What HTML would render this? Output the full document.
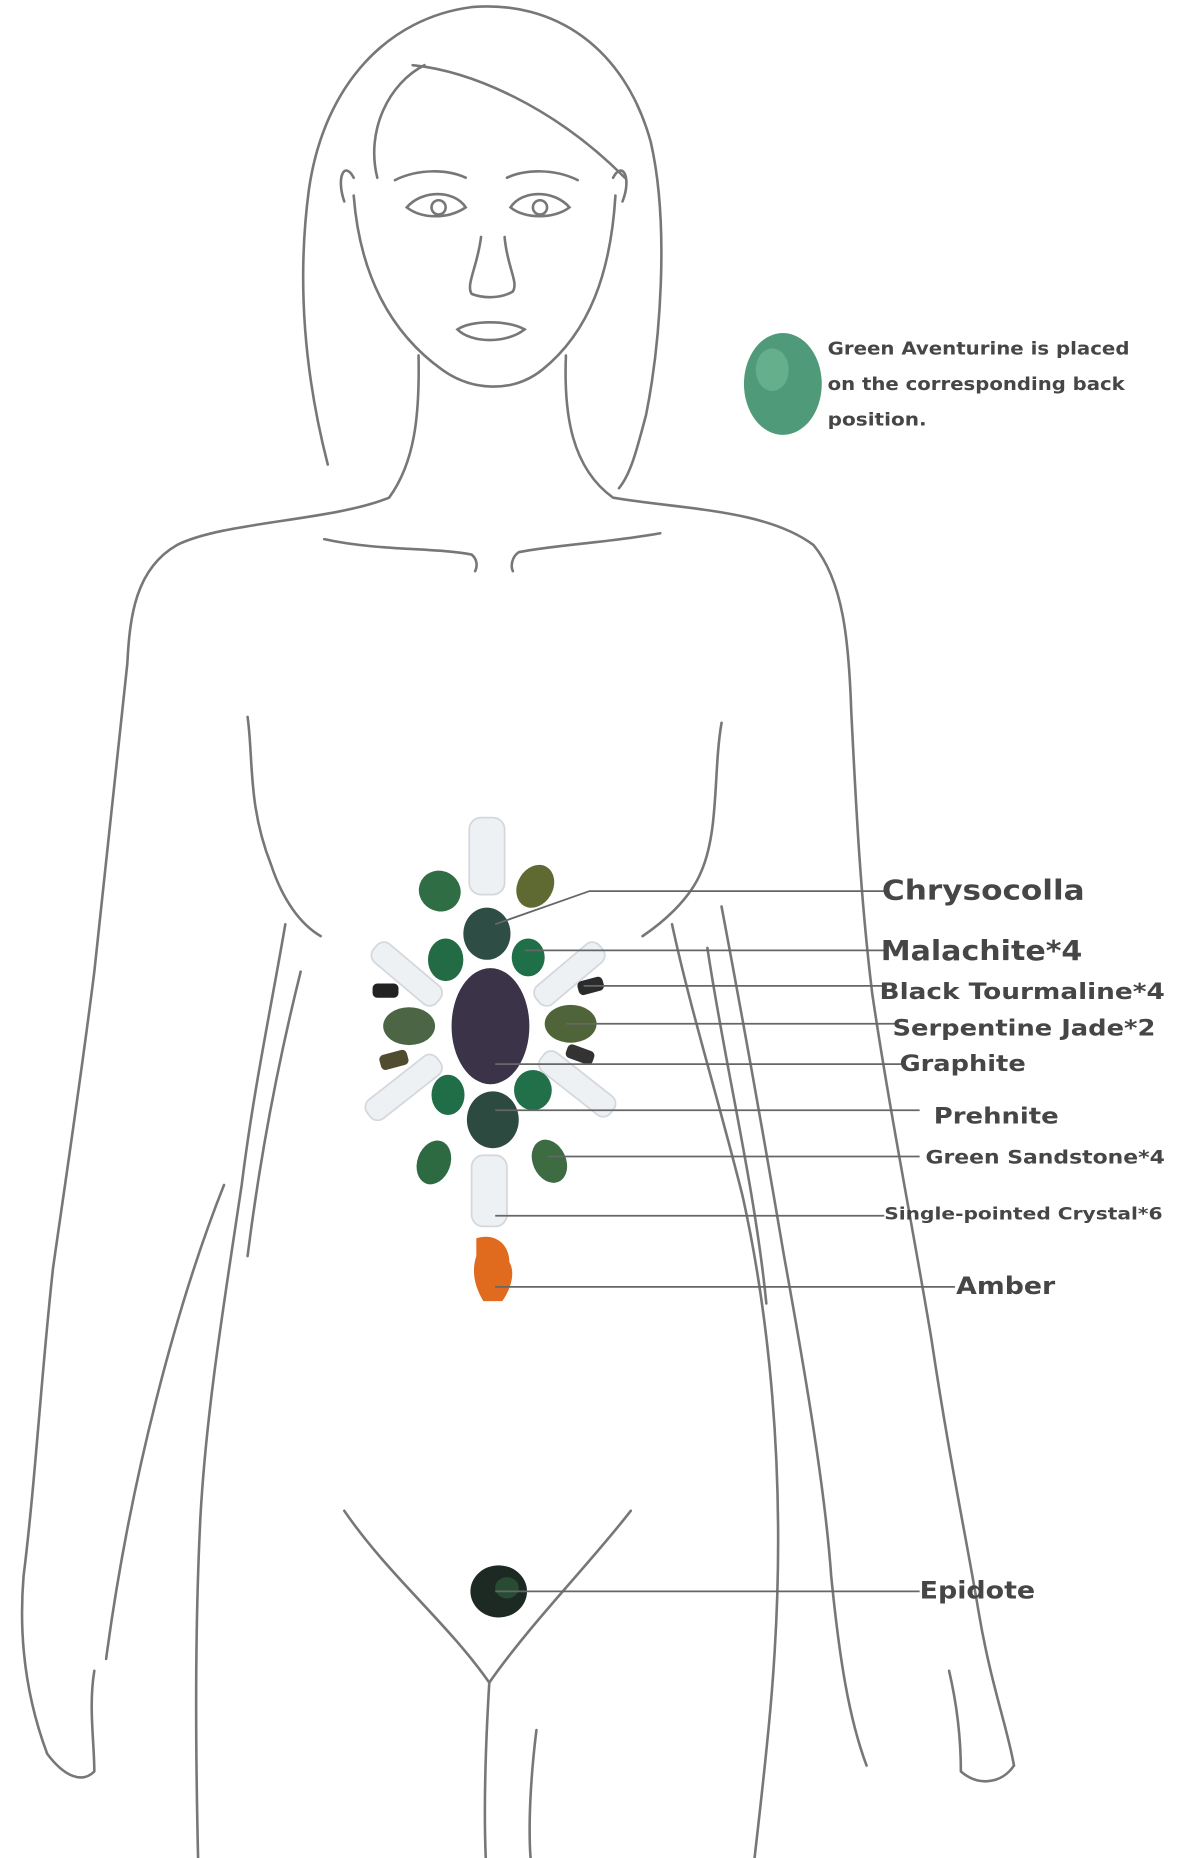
<!DOCTYPE html>
<html><head><meta charset="utf-8"><style>
html,body{margin:0;padding:0;background:#fff;}
svg{display:block;}
text{font-family:"DejaVu Sans","Liberation Sans",sans-serif;font-weight:bold;fill:#464646;}
</style></head><body>
<svg width="1179" height="1858" viewBox="0 0 1000 1568" preserveAspectRatio="none" xmlns="http://www.w3.org/2000/svg">
<g fill="none" stroke="#777" stroke-width="2.2" stroke-linecap="round">
<path d="M278,392 C262,330 250,250 262,160 C275,70 330,15 400,6 C470,0 530,40 552,120 C568,190 560,290 548,350 C540,380 535,400 525,412"/>
<path d="M350,55 C400,60 470,90 530,150"/>
<path d="M320,150 C310,110 330,70 360,55"/>
<path d="M300,165 C305,230 330,280 375,312 C400,330 435,332 460,312 C500,280 518,230 522,165"/>
<path d="M292,170 C285,150 292,135 300,150"/>
<path d="M528,170 C536,150 528,135 520,150"/>
<path d="M345,175 C358,160 385,160 395,175 C380,185 358,185 345,175Z"/>
<circle cx="372" cy="175" r="6"/>
<path d="M335,152 C355,142 380,143 395,150"/>
<path d="M433,175 C443,160 470,160 483,175 C470,185 445,185 433,175Z"/>
<circle cx="458" cy="175" r="6"/>
<path d="M430,150 C445,143 470,142 490,152"/>
<path d="M408,200 C405,225 395,240 400,248 C410,252 425,252 435,246 C440,238 430,225 428,200"/>
<path d="M388,278 C400,270 430,270 445,278 C430,290 400,290 388,278Z"/>
<path d="M355,300 C356,350 352,390 330,420 C280,440 190,440 150,460 C115,480 110,520 108,560 C100,640 90,720 80,820 C70,900 58,980 45,1070 C35,1160 30,1250 20,1330 C15,1390 25,1440 40,1480"/>
<path d="M480,300 C478,350 485,395 520,420 C580,430 650,430 690,460 C715,490 720,540 722,600 C726,680 730,760 740,840 C755,940 775,1040 790,1130 C805,1230 820,1300 830,1360 C840,1420 855,1460 860,1490"/>
<path d="M275,455 C320,465 370,462 400,468 C405,472 405,478 403,482"/>
<path d="M560,450 C515,458 470,460 440,466 C434,470 433,478 435,482"/>
<path d="M210,605 C215,640 210,680 230,730 C240,760 255,780 272,790"/>
<path d="M242,780 C230,850 215,920 205,1000 C190,1100 175,1190 170,1280 C165,1380 166,1480 168,1568"/>
<path d="M255,820 C235,900 220,980 210,1060"/>
<path d="M612,610 C605,650 610,700 595,735 C585,760 560,780 545,790"/>
<path d="M570,780 C585,850 610,930 630,1010 C650,1100 660,1200 660,1300 C660,1400 650,1480 640,1568"/>
<path d="M612,765 C630,860 648,960 665,1060 C685,1170 700,1260 705,1330 C712,1400 720,1450 735,1490"/>
<path d="M600,800 C615,900 640,1000 650,1100"/>
<path d="M190,1000 C150,1100 110,1250 90,1400"/>
<path d="M40,1480 C55,1500 70,1505 80,1495 C80,1470 75,1440 80,1410"/>
<path d="M860,1490 C850,1505 830,1508 815,1495 C815,1470 812,1440 805,1410"/>
<path d="M292,1275 C330,1330 380,1370 415,1420 C450,1370 500,1320 535,1275"/>
<path d="M415,1420 C412,1470 410,1520 412,1568"/>
<path d="M455,1460 C450,1500 448,1540 450,1568"/>
</g>

<ellipse cx="664" cy="324" rx="33" ry="43" fill="#4f9a78"/>
<ellipse cx="655" cy="312" rx="14" ry="18" fill="#6fb894" opacity="0.7"/>
<text x="702" y="299" font-size="15" textLength="256" lengthAdjust="spacingAndGlyphs">Green Aventurine is placed</text>
<text x="702" y="329" font-size="15" textLength="252" lengthAdjust="spacingAndGlyphs">on the corresponding back</text>
<text x="702" y="359" font-size="15" textLength="84" lengthAdjust="spacingAndGlyphs">position.</text>

<g fill="#eef1f4" stroke="#d4d8dd" stroke-width="1.5">
<rect x="398" y="690" width="30" height="65" rx="10"/>
<rect x="400" y="975" width="30" height="60" rx="10"/>
<rect x="310" y="812" width="70" height="20" rx="8" transform="rotate(40 345 822)"/>
<rect x="448" y="812" width="70" height="20" rx="8" transform="rotate(-40 483 822)"/>
<rect x="305" y="908" width="75" height="20" rx="8" transform="rotate(-38 342 918)"/>
<rect x="452" y="905" width="75" height="20" rx="8" transform="rotate(38 490 915)"/>
</g>
<g>
<ellipse cx="373" cy="752" rx="18" ry="17" fill="#2f6e45" transform="rotate(30 373 752)"/>
<ellipse cx="454" cy="748" rx="15" ry="19" fill="#5e6a32" transform="rotate(30 454 748)"/>
<ellipse cx="413" cy="788" rx="20" ry="22" fill="#2d4d45"/>
<ellipse cx="378" cy="810" rx="15" ry="18" fill="#226b45"/>
<ellipse cx="448" cy="808" rx="14" ry="16" fill="#1f7048"/>
<ellipse cx="347" cy="866" rx="22" ry="16" fill="#4b6545"/>
<ellipse cx="484" cy="864" rx="22" ry="16" fill="#50643a"/>
<ellipse cx="380" cy="924" rx="14" ry="17" fill="#1f6e48"/>
<ellipse cx="452" cy="920" rx="16" ry="17" fill="#227049"/>
<ellipse cx="418" cy="945" rx="22" ry="24" fill="#2c4a40"/>
<ellipse cx="368" cy="981" rx="14" ry="19" fill="#2d6a42" transform="rotate(20 368 981)"/>
<ellipse cx="466" cy="980" rx="14" ry="19" fill="#3d6b42" transform="rotate(-25 466 980)"/>
<rect x="316" y="830" width="22" height="12" rx="4" fill="#222"/>
<rect x="490" y="826" width="22" height="12" rx="4" fill="#2b2b2b" transform="rotate(-15 501 832)"/>
<rect x="322" y="888" width="24" height="13" rx="4" fill="#4f4c30" transform="rotate(-15 334 894)"/>
<rect x="480" y="884" width="24" height="12" rx="4" fill="#333" transform="rotate(20 492 890)"/>
<ellipse cx="416" cy="866" rx="33" ry="49" fill="#3b3448"/>
<path d="M404,1045 C420,1040 432,1050 432,1065 C438,1075 432,1090 426,1098 L410,1098 C402,1085 400,1072 404,1060Z" fill="#e06a1e"/>
<ellipse cx="423" cy="1343" rx="24" ry="22" fill="#1d2a24"/>
<ellipse cx="430" cy="1340" rx="10" ry="9" fill="#2d5a3c" opacity="0.7"/>
</g>

<g fill="none" stroke="#666" stroke-width="1.5">
<polyline points="420,780 500,752 750,752"/>
<line x1="445" y1="802" x2="750" y2="802"/>
<line x1="495" y1="832" x2="750" y2="832"/>
<line x1="480" y1="864" x2="760" y2="864"/>
<line x1="420" y1="898" x2="765" y2="898"/>
<line x1="420" y1="937" x2="780" y2="937"/>
<line x1="465" y1="976" x2="780" y2="976"/>
<line x1="420" y1="1026" x2="750" y2="1026"/>
<line x1="420" y1="1086" x2="810" y2="1086"/>
<line x1="420" y1="1343" x2="780" y2="1343"/>
</g>
<text x="748" y="759" font-size="23" textLength="172" lengthAdjust="spacingAndGlyphs">Chrysocolla</text>
<text x="747" y="810" font-size="23" textLength="171" lengthAdjust="spacingAndGlyphs">Malachite*4</text>
<text x="746" y="843" font-size="19" textLength="242" lengthAdjust="spacingAndGlyphs">Black Tourmaline*4</text>
<text x="757" y="874" font-size="19" textLength="223" lengthAdjust="spacingAndGlyphs">Serpentine Jade*2</text>
<text x="763" y="904" font-size="19" textLength="107" lengthAdjust="spacingAndGlyphs">Graphite</text>
<text x="792" y="948" font-size="19" textLength="106" lengthAdjust="spacingAndGlyphs">Prehnite</text>
<text x="785" y="982" font-size="16" textLength="203" lengthAdjust="spacingAndGlyphs">Green Sandstone*4</text>
<text x="750" y="1029" font-size="14" textLength="236" lengthAdjust="spacingAndGlyphs">Single-pointed Crystal*6</text>
<text x="811" y="1092" font-size="20" textLength="84" lengthAdjust="spacingAndGlyphs">Amber</text>
<text x="780" y="1349" font-size="20" textLength="98" lengthAdjust="spacingAndGlyphs">Epidote</text>
</svg>
</body></html>
